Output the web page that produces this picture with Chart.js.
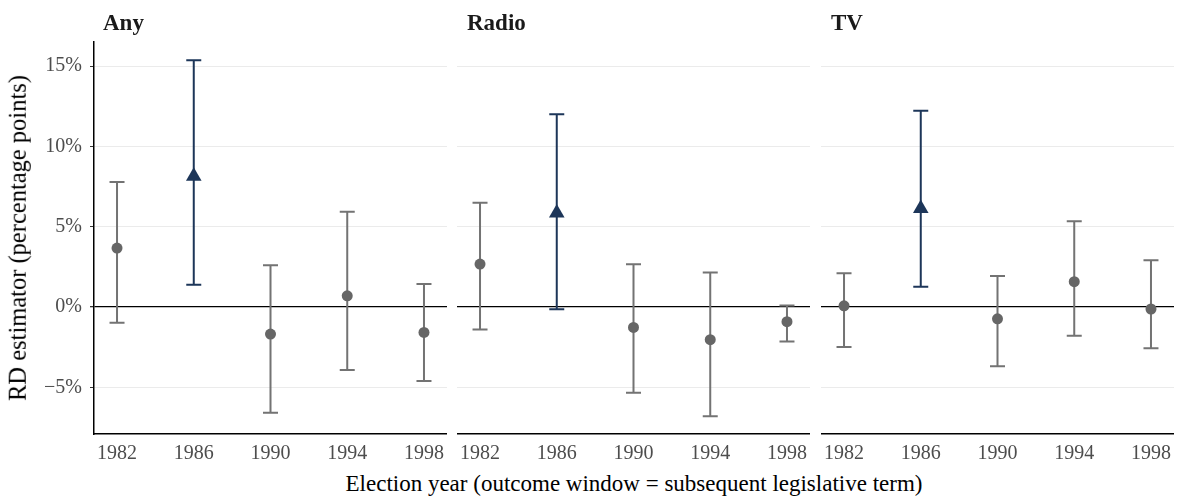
<!DOCTYPE html>
<html>
<head>
<meta charset="utf-8">
<script src="https://cdn.jsdelivr.net/npm/chart.js@4.4.0/dist/chart.umd.min.js"></script>
<style>
    body { margin: 0; background: #fff; }
    #wrap { position: relative; width: 1177px; height: 500px; font-family: "Liberation Serif", serif; color: #000; }
    canvas { position: absolute; top: 0; }
    .facet { position: absolute; top: 11px; font-weight: bold; font-size: 23px; line-height: 1; color: #1a1a1a; }
    .axis-title { position: absolute; font-size: 23px; line-height: 1; white-space: nowrap; }
</style>
</head>
<body>
<div id="wrap">
    <canvas id="anyChart" width="447" height="470" style="left:0px"></canvas>
    <canvas id="radioChart" width="353" height="470" style="left:457px"></canvas>
    <canvas id="tvChart" width="353" height="470" style="left:821px"></canvas>
    <div class="facet" style="left:103px">Any</div>
    <div class="facet" style="left:467px">Radio</div>
    <div class="facet" style="left:831px">TV</div>
    <div class="axis-title" style="left:18px; top:238px; font-size:24.5px; transform: translate(-50%, -50%) rotate(-90deg);">RD estimator (percentage points)</div>
    <div class="axis-title" style="left:634px; top:472px; transform: translateX(-50%);">Election year (outcome window = subsequent legislative term)</div>
</div>
<script>
// Data (percentage points)
const years = [1982, 1986, 1990, 1994, 1998];
const highlightYear = 1986;
const yTicks = [-5, 0, 5, 10, 15];

const anyEst  = [3.67, 8.15, -1.68, 0.70, -1.58];
const anyLow  = [-0.98, 1.39, -6.58, -3.92, -4.60];
const anyHigh = [7.78, 15.37, 2.61, 5.93, 1.43];

const radioEst  = [2.68, 5.85, -1.27, -2.03, -0.91];
const radioLow  = [-1.39, -0.14, -5.33, -6.80, -2.14];
const radioHigh = [6.49, 12.01, 2.66, 2.16, 0.10];

const tvEst  = [0.08, 6.14, -0.73, 1.58, -0.12];
const tvLow  = [-2.49, 1.27, -3.69, -1.78, -2.57];
const tvHigh = [2.10, 12.22, 1.93, 5.35, 2.91];

const greyPoint = '#666666';
const greyBar = '#737373';
const navy = '#1d3659';

// error bars drawn under the points
const errorBars = {
    id: 'errorBars',
    beforeDatasetsDraw(chart) {
        const { ctx, scales: { x, y } } = chart;
        const ds = chart.data.datasets[0];
        ctx.save();
        ctx.lineWidth = 2;
        ds.data.forEach((d, i) => {
            const px = x.getPixelForValue(d.x);
            const top = y.getPixelForValue(d.high);
            const bot = y.getPixelForValue(d.low);
            ctx.strokeStyle = d.x === highlightYear ? navy : greyBar;
            ctx.beginPath();
            ctx.moveTo(px, top); ctx.lineTo(px, bot);
            ctx.moveTo(px - 7.5, top); ctx.lineTo(px + 7.5, top);
            ctx.moveTo(px - 7.5, bot); ctx.lineTo(px + 7.5, bot);
            ctx.stroke();
        });
        ctx.restore();
    }
};

function makePanel(id, est, low, high, showY) {
    const points = years.map((yr, i) => ({ x: yr, y: est[i], low: low[i], high: high[i] }));
    const isHi = years.map(yr => yr === highlightYear);
    return new Chart(document.getElementById(id), {
        type: 'scatter',
        data: {
            datasets: [{
                data: points,
                pointStyle: isHi.map(h => h ? 'triangle' : 'circle'),
                pointRadius: isHi.map(h => h ? 9 : 5.5),
                backgroundColor: isHi.map(h => h ? navy : greyPoint),
                borderColor: isHi.map(h => h ? navy : greyPoint),
                borderWidth: 0
            }]
        },
        options: {
            responsive: false,
            animation: false,
            layout: { autoPadding: false, padding: { top: 42, left: 0, right: 0, bottom: 0 } },
            plugins: { legend: { display: false }, tooltip: { enabled: false } },
            scales: {
                x: {
                    type: 'linear',
                    min: 1980.8,
                    max: 1999.2,
                    afterBuildTicks: s => { s.ticks = years.map(v => ({ value: v })); },
                    afterFit: s => { s.height = 36; s.paddingLeft = 0; s.paddingRight = 0; },
                    grid: { display: false, drawTicks: false },
                    border: { display: true, color: '#000', width: 1.5 },
                    ticks: {
                        padding: 8,
                        color: '#4d4d4d',
                        font: { family: 'Liberation Serif', size: 20 },
                        callback: v => String(v),
                        maxRotation: 0,
                        autoSkip: false
                    }
                },
                y: {
                    min: -7.9,
                    max: 16.5,
                    afterBuildTicks: s => { s.ticks = yTicks.map(v => ({ value: v })); },
                    afterFit: s => { s.width = showY ? 94 : 0; s.paddingTop = 0; s.paddingBottom = 0; },
                    grid: {
                        color: c => c.tick && c.tick.value === 0 ? '#000' : '#ebebeb',
                        lineWidth: c => c.tick && c.tick.value === 0 ? 1.3 : 1,
                        drawTicks: showY,
                        tickLength: 4,
                        tickColor: '#333'
                    },
                    border: { display: showY, color: '#000', width: 1.5 },
                    ticks: {
                        display: showY,
                        padding: 8,
                        color: '#4d4d4d',
                        font: { family: 'Liberation Serif', size: 20 },
                        callback: v => (v < 0 ? '\u2212' + Math.abs(v) : v) + '%'
                    }
                }
            }
        },
        plugins: [errorBars]
    });
}

makePanel('anyChart', anyEst, anyLow, anyHigh, true);
makePanel('radioChart', radioEst, radioLow, radioHigh, false);
makePanel('tvChart', tvEst, tvLow, tvHigh, false);
</script>
</body>
</html>
